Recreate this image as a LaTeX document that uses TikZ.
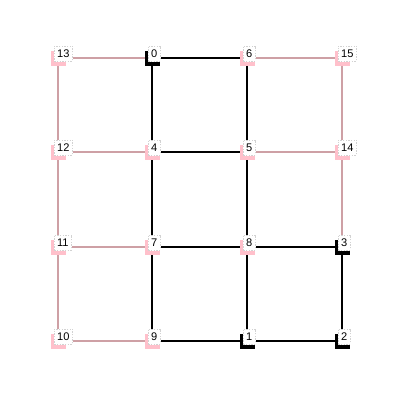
\documentclass[tikz,border=0pt]{standalone}
\usepackage{fontspec}
\setmainfont{Liberation Sans}
\usetikzlibrary{backgrounds}
\definecolor{mkpink}{RGB}{255,192,203}
\definecolor{pinkedge}{RGB}{206,160,165}
\begin{document}
\begin{tikzpicture}[x=0.75pt,y=-0.75pt,
  mk/.style={minimum size=11.25pt, inner sep=0pt, draw=none, fill=mkpink},
  mkb/.style={mk, fill=black},
  lb/.style={anchor=south west, fill=white, draw=gray!35, dash pattern=on 1pt off 1pt,
    preaction={draw=white, solid},
    line width=0.3pt, inner xsep=2.2pt, inner ysep=0pt, minimum height=11.25pt,
    font=\fontsize{8.3}{9}\selectfont},
  be/.style={draw=black, line width=1.3pt},
  pe/.style={draw=pinkedge, line width=1.5pt},
]
\useasboundingbox (0,0) rectangle (400,400);
% markers
\node[mk]  (n13) at (58,58) {};
\node[mkb] (n0)  at (152,58) {};
\node[mk]  (n6)  at (247,58) {};
\node[mk]  (n15) at (342,58) {};
\node[mk]  (n12) at (58,152) {};
\node[mk]  (n4)  at (152,152) {};
\node[mk]  (n5)  at (247,152) {};
\node[mk]  (n14) at (342,152) {};
\node[mk]  (n11) at (58,247) {};
\node[mk]  (n7)  at (152,247) {};
\node[mk]  (n8)  at (247,247) {};
\node[mkb] (n3)  at (342,247) {};
\node[mk]  (n10) at (58,341) {};
\node[mk]  (n9)  at (152,341) {};
\node[mkb] (n1)  at (247,341) {};
\node[mkb] (n2)  at (342,341) {};
% edges
\begin{scope}[on background layer]
\draw[be] (n0.center) -- (n6.center);
\draw[be] (n0.center) -- (n4.center);
\draw[be] (n6.center) -- (n5.center);
\draw[be] (n4.center) -- (n5.center);
\draw[be] (n4.center) -- (n7.center);
\draw[be] (n5.center) -- (n8.center);
\draw[be] (n7.center) -- (n8.center);
\draw[be] (n8.center) -- (n3.center);
\draw[be] (n7.center) -- (n9.center);
\draw[be] (n8.center) -- (n1.center);
\draw[be] (n3.center) -- (n2.center);
\draw[be] (n9.center) -- (n1.center);
\draw[be] (n1.center) -- (n2.center);
\draw[pe] (n13.center) -- (n0.center);
\draw[pe] (n13.center) -- (n12.center);
\draw[pe] (n12.center) -- (n4.center);
\draw[pe] (n12.center) -- (n11.center);
\draw[pe] (n11.center) -- (n7.center);
\draw[pe] (n11.center) -- (n10.center);
\draw[pe] (n10.center) -- (n9.center);
\draw[pe] (n6.center) -- (n15.center);
\draw[pe] (n15.center) -- (n14.center);
\draw[pe] (n5.center) -- (n14.center);
\draw[pe] (n14.center) -- (n3.center);
\end{scope}
% labels
\foreach \n in {0,...,15}{
  \node[lb] (l\n) at ([xshift=-3pt,yshift=-2.25pt]n\n.center) {\n};
}
\end{tikzpicture}
\end{document}
